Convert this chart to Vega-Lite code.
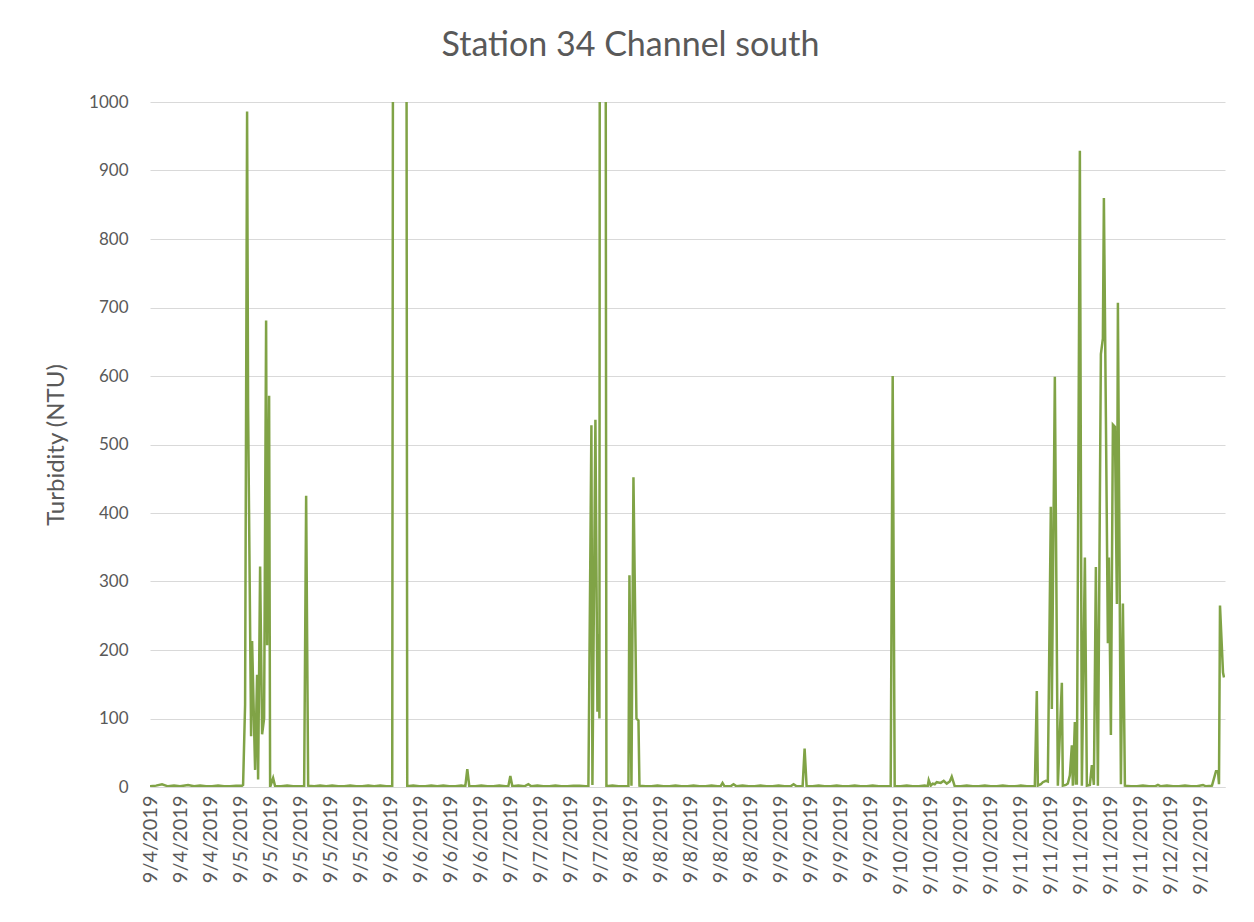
{
  "$schema": "https://vega.github.io/schema/vega-lite/v6.json",
  "width": 1075,
  "height": 685,
  "autosize": {"type": "none"},
  "padding": {"left": 150, "top": 102, "right": 29, "bottom": 135},
  "background": "white",
  "title": {"text": "Station 34 Channel south", "font": "Lato", "fontSize": 34, "fontWeight": "normal", "color": "#595959", "anchor": "middle", "dx": -57, "offset": 30},
  "data": {"values": [
    {"i":0,"v":1},{"i":6,"v":2},{"i":12,"v":4},{"i":18,"v":1},{"i":24,"v":2},{"i":30,"v":1},{"i":38,"v":3},{"i":44,"v":1},{"i":50,"v":2},{"i":56,"v":1},{"i":62,"v":1},{"i":68,"v":2},{"i":74,"v":1},{"i":80,"v":1},{"i":86,"v":2},{"i":92,"v":2},
    {"i":93,"v":3},{"i":95,"v":120},{"i":97,"v":986},{"i":98,"v":554},{"i":101,"v":74},{"i":102,"v":213},{"i":105,"v":25},{"i":107,"v":164},{"i":108,"v":11},{"i":110,"v":322},{"i":112,"v":77},{"i":114,"v":100},{"i":116,"v":681},{"i":117,"v":207},{"i":119,"v":571},{"i":120,"v":0},{"i":123,"v":13},{"i":125,"v":1},
    {"i":131,"v":1},{"i":137,"v":2},{"i":143,"v":1},{"i":149,"v":1},{"i":154,"v":1},{"i":156,"v":425},{"i":158,"v":2},
    {"i":164,"v":1},{"i":170,"v":2},{"i":176,"v":1},{"i":182,"v":2},{"i":188,"v":1},{"i":194,"v":1},{"i":200,"v":2},{"i":206,"v":1},{"i":212,"v":1},{"i":218,"v":2},{"i":224,"v":1},{"i":230,"v":2},{"i":236,"v":1},{"i":242,"v":1},
    {"i":244,"v":3000},{"i":250,"v":3000},{"i":255,"v":3000},{"i":257,"v":1},
    {"i":263,"v":2},{"i":269,"v":1},{"i":275,"v":1},{"i":281,"v":2},{"i":287,"v":1},{"i":293,"v":2},{"i":299,"v":1},{"i":305,"v":1},{"i":311,"v":2},{"i":315,"v":1},{"i":317,"v":26},{"i":319,"v":1},{"i":325,"v":1},{"i":331,"v":2},{"i":337,"v":1},{"i":343,"v":1},{"i":349,"v":2},{"i":355,"v":1},{"i":358,"v":1},{"i":360,"v":16},{"i":362,"v":1},{"i":368,"v":2},{"i":374,"v":1},{"i":378,"v":4},{"i":381,"v":1},{"i":387,"v":2},{"i":393,"v":1},{"i":399,"v":1},{"i":405,"v":2},{"i":411,"v":1},{"i":417,"v":1},{"i":423,"v":2},{"i":429,"v":2},{"i":435,"v":1},{"i":438,"v":1},
    {"i":441,"v":528},{"i":442,"v":3},{"i":445,"v":536},{"i":447,"v":110},{"i":448,"v":223},{"i":449,"v":100},{"i":450,"v":3000},{"i":454,"v":3000},{"i":456,"v":1},
    {"i":462,"v":2},{"i":468,"v":1},{"i":474,"v":1},{"i":478,"v":1},
    {"i":479,"v":309},{"i":481,"v":2},{"i":483,"v":452},{"i":486,"v":100},{"i":488,"v":97},{"i":489,"v":2},
    {"i":495,"v":1},{"i":501,"v":1},{"i":507,"v":2},{"i":513,"v":1},{"i":519,"v":1},{"i":525,"v":2},{"i":531,"v":1},{"i":537,"v":1},{"i":543,"v":2},{"i":549,"v":1},{"i":555,"v":1},{"i":561,"v":2},{"i":567,"v":1},{"i":570,"v":1},{"i":572,"v":6},{"i":574,"v":1},{"i":580,"v":1},{"i":583,"v":4},{"i":586,"v":1},{"i":592,"v":2},{"i":598,"v":1},{"i":604,"v":1},{"i":610,"v":2},{"i":616,"v":1},{"i":622,"v":1},{"i":628,"v":2},{"i":634,"v":1},{"i":640,"v":1},{"i":643,"v":4},{"i":646,"v":1},{"i":652,"v":1},{"i":654,"v":56},{"i":656,"v":1},{"i":662,"v":1},{"i":668,"v":2},{"i":674,"v":1},{"i":680,"v":1},{"i":686,"v":2},{"i":692,"v":1},{"i":698,"v":1},{"i":704,"v":2},{"i":710,"v":1},{"i":716,"v":1},{"i":722,"v":2},{"i":728,"v":1},{"i":734,"v":1},{"i":740,"v":1},{"i":742,"v":600},{"i":744,"v":1},{"i":750,"v":1},{"i":756,"v":2},{"i":762,"v":1},{"i":768,"v":1},{"i":774,"v":2},{"i":777,"v":1},
    {"i":778,"v":10},{"i":780,"v":2},{"i":782,"v":5},{"i":784,"v":4},{"i":786,"v":7},{"i":790,"v":6},{"i":793,"v":9},{"i":796,"v":5},{"i":799,"v":8},{"i":801,"v":15},{"i":804,"v":1},
    {"i":810,"v":1},{"i":816,"v":2},{"i":822,"v":1},{"i":828,"v":1},{"i":834,"v":2},{"i":840,"v":1},{"i":846,"v":1},{"i":852,"v":2},{"i":858,"v":1},{"i":864,"v":1},{"i":870,"v":2},{"i":876,"v":1},{"i":882,"v":1},{"i":884,"v":1},
    {"i":886,"v":140},{"i":887,"v":2},{"i":890,"v":4},{"i":892,"v":7},{"i":895,"v":9},{"i":897,"v":8},{"i":900,"v":409},{"i":901,"v":114},{"i":904,"v":599},{"i":907,"v":2},{"i":911,"v":152},{"i":912,"v":2},{"i":915,"v":3},{"i":917,"v":5},{"i":919,"v":17},{"i":921,"v":61},{"i":922,"v":2},{"i":924,"v":95},{"i":925,"v":5},{"i":926,"v":5},{"i":929,"v":929},{"i":931,"v":2},{"i":934,"v":335},{"i":936,"v":2},{"i":939,"v":3},{"i":941,"v":32},{"i":943,"v":3},{"i":945,"v":321},{"i":947,"v":2},{"i":950,"v":632},{"i":952,"v":655},{"i":953,"v":860},{"i":955,"v":540},{"i":957,"v":210},{"i":958,"v":335},{"i":960,"v":76},{"i":962,"v":529},{"i":964,"v":526},{"i":966,"v":267},{"i":967,"v":707},{"i":970,"v":4},{"i":972,"v":268},{"i":974,"v":2},
    {"i":980,"v":1},{"i":986,"v":1},{"i":992,"v":2},{"i":998,"v":1},{"i":1004,"v":1},{"i":1007,"v":3},{"i":1010,"v":1},{"i":1016,"v":2},{"i":1022,"v":1},{"i":1028,"v":1},{"i":1034,"v":2},{"i":1040,"v":1},{"i":1046,"v":1},{"i":1052,"v":3},{"i":1055,"v":1},{"i":1061,"v":2},{"i":1065,"v":23},{"i":1067,"v":23},{"i":1068,"v":4},{"i":1069,"v":265},{"i":1072,"v":167},{"i":1073,"v":160}
  ]},
  "mark": {"type": "line", "color": "#80a346", "strokeWidth": 2.5, "clip": true},
  "encoding": {
    "x": {
      "field": "i", "type": "quantitative",
      "scale": {"domain": [0, 1074], "nice": false, "zero": false},
      "axis": {
        "title": null,
        "values": [0,30,60,90,120,150,180,210,240,270,300,330,360,390,420,450,480,510,540,570,600,630,660,690,720,750,780,810,840,870,900,930,960,990,1020,1050],
        "labelExpr": "['9/4/2019','9/4/2019','9/4/2019','9/5/2019','9/5/2019','9/5/2019','9/5/2019','9/5/2019','9/6/2019','9/6/2019','9/6/2019','9/6/2019','9/7/2019','9/7/2019','9/7/2019','9/7/2019','9/8/2019','9/8/2019','9/8/2019','9/8/2019','9/8/2019','9/9/2019','9/9/2019','9/9/2019','9/9/2019','9/10/2019','9/10/2019','9/10/2019','9/10/2019','9/11/2019','9/11/2019','9/11/2019','9/11/2019','9/11/2019','9/12/2019','9/12/2019'][round(datum.value/30)]",
        "labelAngle": -90, "labelAlign": "right", "labelBaseline": "middle",
        "labelFont": "Lato", "labelFontSize": 20, "labelColor": "#595959", "labelPadding": 8,
        "labelOverlap": false, "labelBound": false, "labelFlush": false,
        "ticks": false, "grid": false, "domainColor": "#d9d9d9", "domainWidth": 1
      }
    },
    "y": {
      "field": "v", "type": "quantitative",
      "scale": {"domain": [0, 1000], "nice": false},
      "axis": {
        "title": "Turbidity (NTU)", "titleFont": "Lato", "titleFontSize": 24, "titleFontWeight": "normal", "titleColor": "#595959", "titlePadding": 20,
        "values": [0,100,200,300,400,500,600,700,800,900,1000],
        "format": "d",
        "labelFont": "Lato", "labelFontSize": 17, "labelColor": "#595959", "labelPadding": 22,
        "ticks": false, "domain": false, "gridColor": "#d9d9d9", "gridWidth": 1
      }
    }
  },
  "config": {"view": {"stroke": null}}
}
